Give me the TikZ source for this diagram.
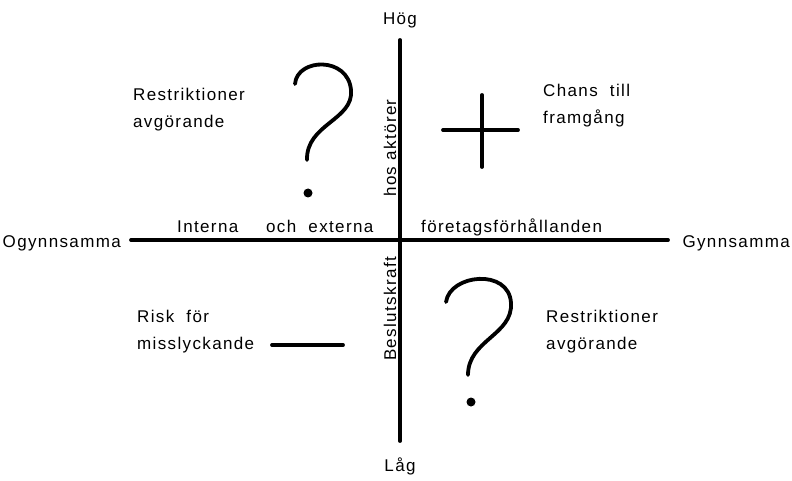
\documentclass[tikz,border=0pt]{standalone}
\usepackage{fontspec}
\setmainfont{Liberation Sans}[LetterSpace=8]

\tikzset{
  lbl/.style={font=\fontsize{17}{27}\selectfont, inner sep=0pt, align=left},
  stroke/.style={line width=3.8pt, line cap=round},
}

\begin{document}
\begin{tikzpicture}[x=1pt, y=-1pt]
            \useasboundingbox (0,0) rectangle (792,481);

            % axes
            \coordinate (top) at (400,40);
            \coordinate (bottom) at (400,441);
            \coordinate (left) at (131,240);
            \coordinate (right) at (668,240);
            \draw[stroke] (top) -- (bottom);
            \draw[stroke] (left) -- (right);

            \node[lbl] (hog) at (400,20) {Hög};
            \node[lbl] (lag) at (400,466) {Låg};
            \node[lbl, anchor=east] (ogynn) at (121,243) {Ogynnsamma};
            \node[lbl, anchor=east] (gynn) at (790,243) {Gynnsamma};

            \node[lbl, anchor=base west] (interna) at (177,233) {Interna};
            \node[lbl, anchor=base west] (externa) at (266,233) {och\ \ externa};
            \node[lbl, anchor=base west] (forhall) at (421,232) {företagsförhållanden};
            \node[lbl, rotate=90] (aktorer) at (390,148) {hos aktörer};
            \node[lbl, rotate=90] (beslut) at (390,309) {Beslutskraft};

            % quadrants
            \node[lbl, anchor=north west] (restra) at (133,88) {Restriktioner\\avgörande};
            \draw[stroke] (295,84) .. controls (297,58) and (348,56) .. (351,90)
                .. controls (354,120) and (306,124) .. (307,160);
            \fill (308,193) circle (4.5pt);

            \node[lbl, anchor=north west] (chans) at (543,84) {Chans\ \ till\\framgång};
            \coordinate (plw) at (443,130);
            \coordinate (ple) at (518,130);
            \coordinate (pln) at (482,95);
            \coordinate (pls) at (482,167);
            \draw[stroke] (plw) -- (ple);
            \draw[stroke] (pln) -- (pls);

            \node[lbl, anchor=north west] (risk) at (137,310) {Risk\ \ för\\misslyckande};
            \coordinate (miw) at (272,345);
            \coordinate (mie) at (343,345);
            \draw[stroke] (miw) -- (mie);

            \node[lbl, anchor=north west] (restrb) at (546,310) {Restriktioner\\avgörande};
            \draw[stroke] (446,302) .. controls (450,274) and (509,268) .. (511,303)
                .. controls (513,335) and (468,340) .. (468,375);
            \fill (471,402) circle (4.5pt);
        \end{tikzpicture}
\end{document}
